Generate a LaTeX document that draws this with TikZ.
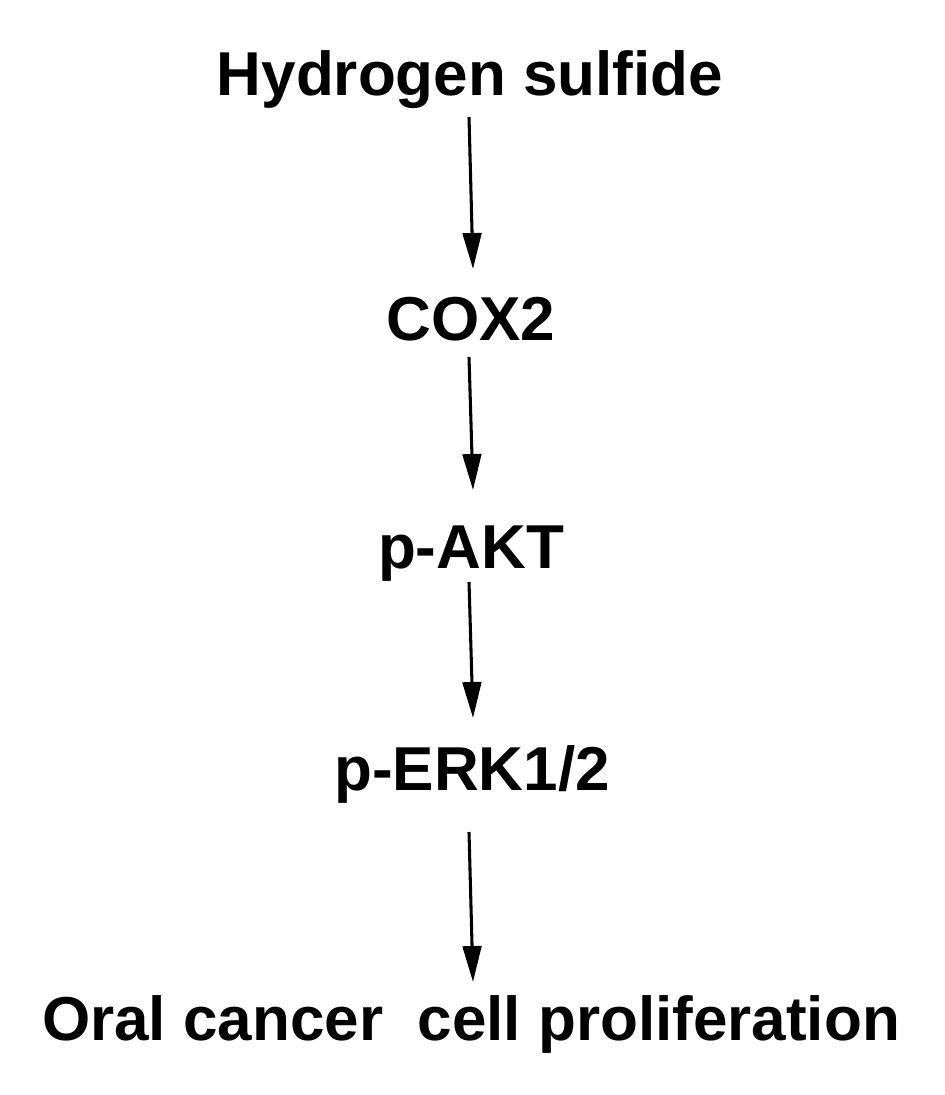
\documentclass[tikz,border=0pt]{standalone}
\usepackage{fontspec}
\setmainfont{Liberation Sans}
\usetikzlibrary{arrows.meta}
\begin{document}
\begin{tikzpicture}[x=0.75pt,y=-0.75pt,
  lbl/.style={anchor=base,inner sep=0pt,font=\fontsize{46.5}{52}\bfseries\selectfont},
  arr/.style={line width=2.3pt,-{Triangle[length=27pt,width=14pt]}}]
\fill[white] (0,0) rectangle (945,1095);
\useasboundingbox (0,0) rectangle (945,1095);
\node[lbl] (hs) at (470,96) {Hydrogen sulfide};
\node[lbl] (cox) at (471,340) {COX2};
\node[lbl] (akt) at (471,568) {p-AKT};
\node[lbl] (erk) at (472,790) {p-ERK1/2};
\node[lbl] (ocp) at (471,1040) {Oral cancer\ \ cell proliferation};
\draw[arr] ([shift={(-1,21)}]hs.base) -- ([shift={(2,-71)}]cox.base);
\draw[arr] ([shift={(-2,17)}]cox.base) -- ([shift={(2,-78)}]akt.base);
\draw[arr] ([shift={(-2,14)}]akt.base) -- ([shift={(1,-72)}]erk.base);
\draw[arr] ([shift={(-3,42)}]erk.base) -- ([shift={(2,-58)}]ocp.base);
\end{tikzpicture}
\end{document}
